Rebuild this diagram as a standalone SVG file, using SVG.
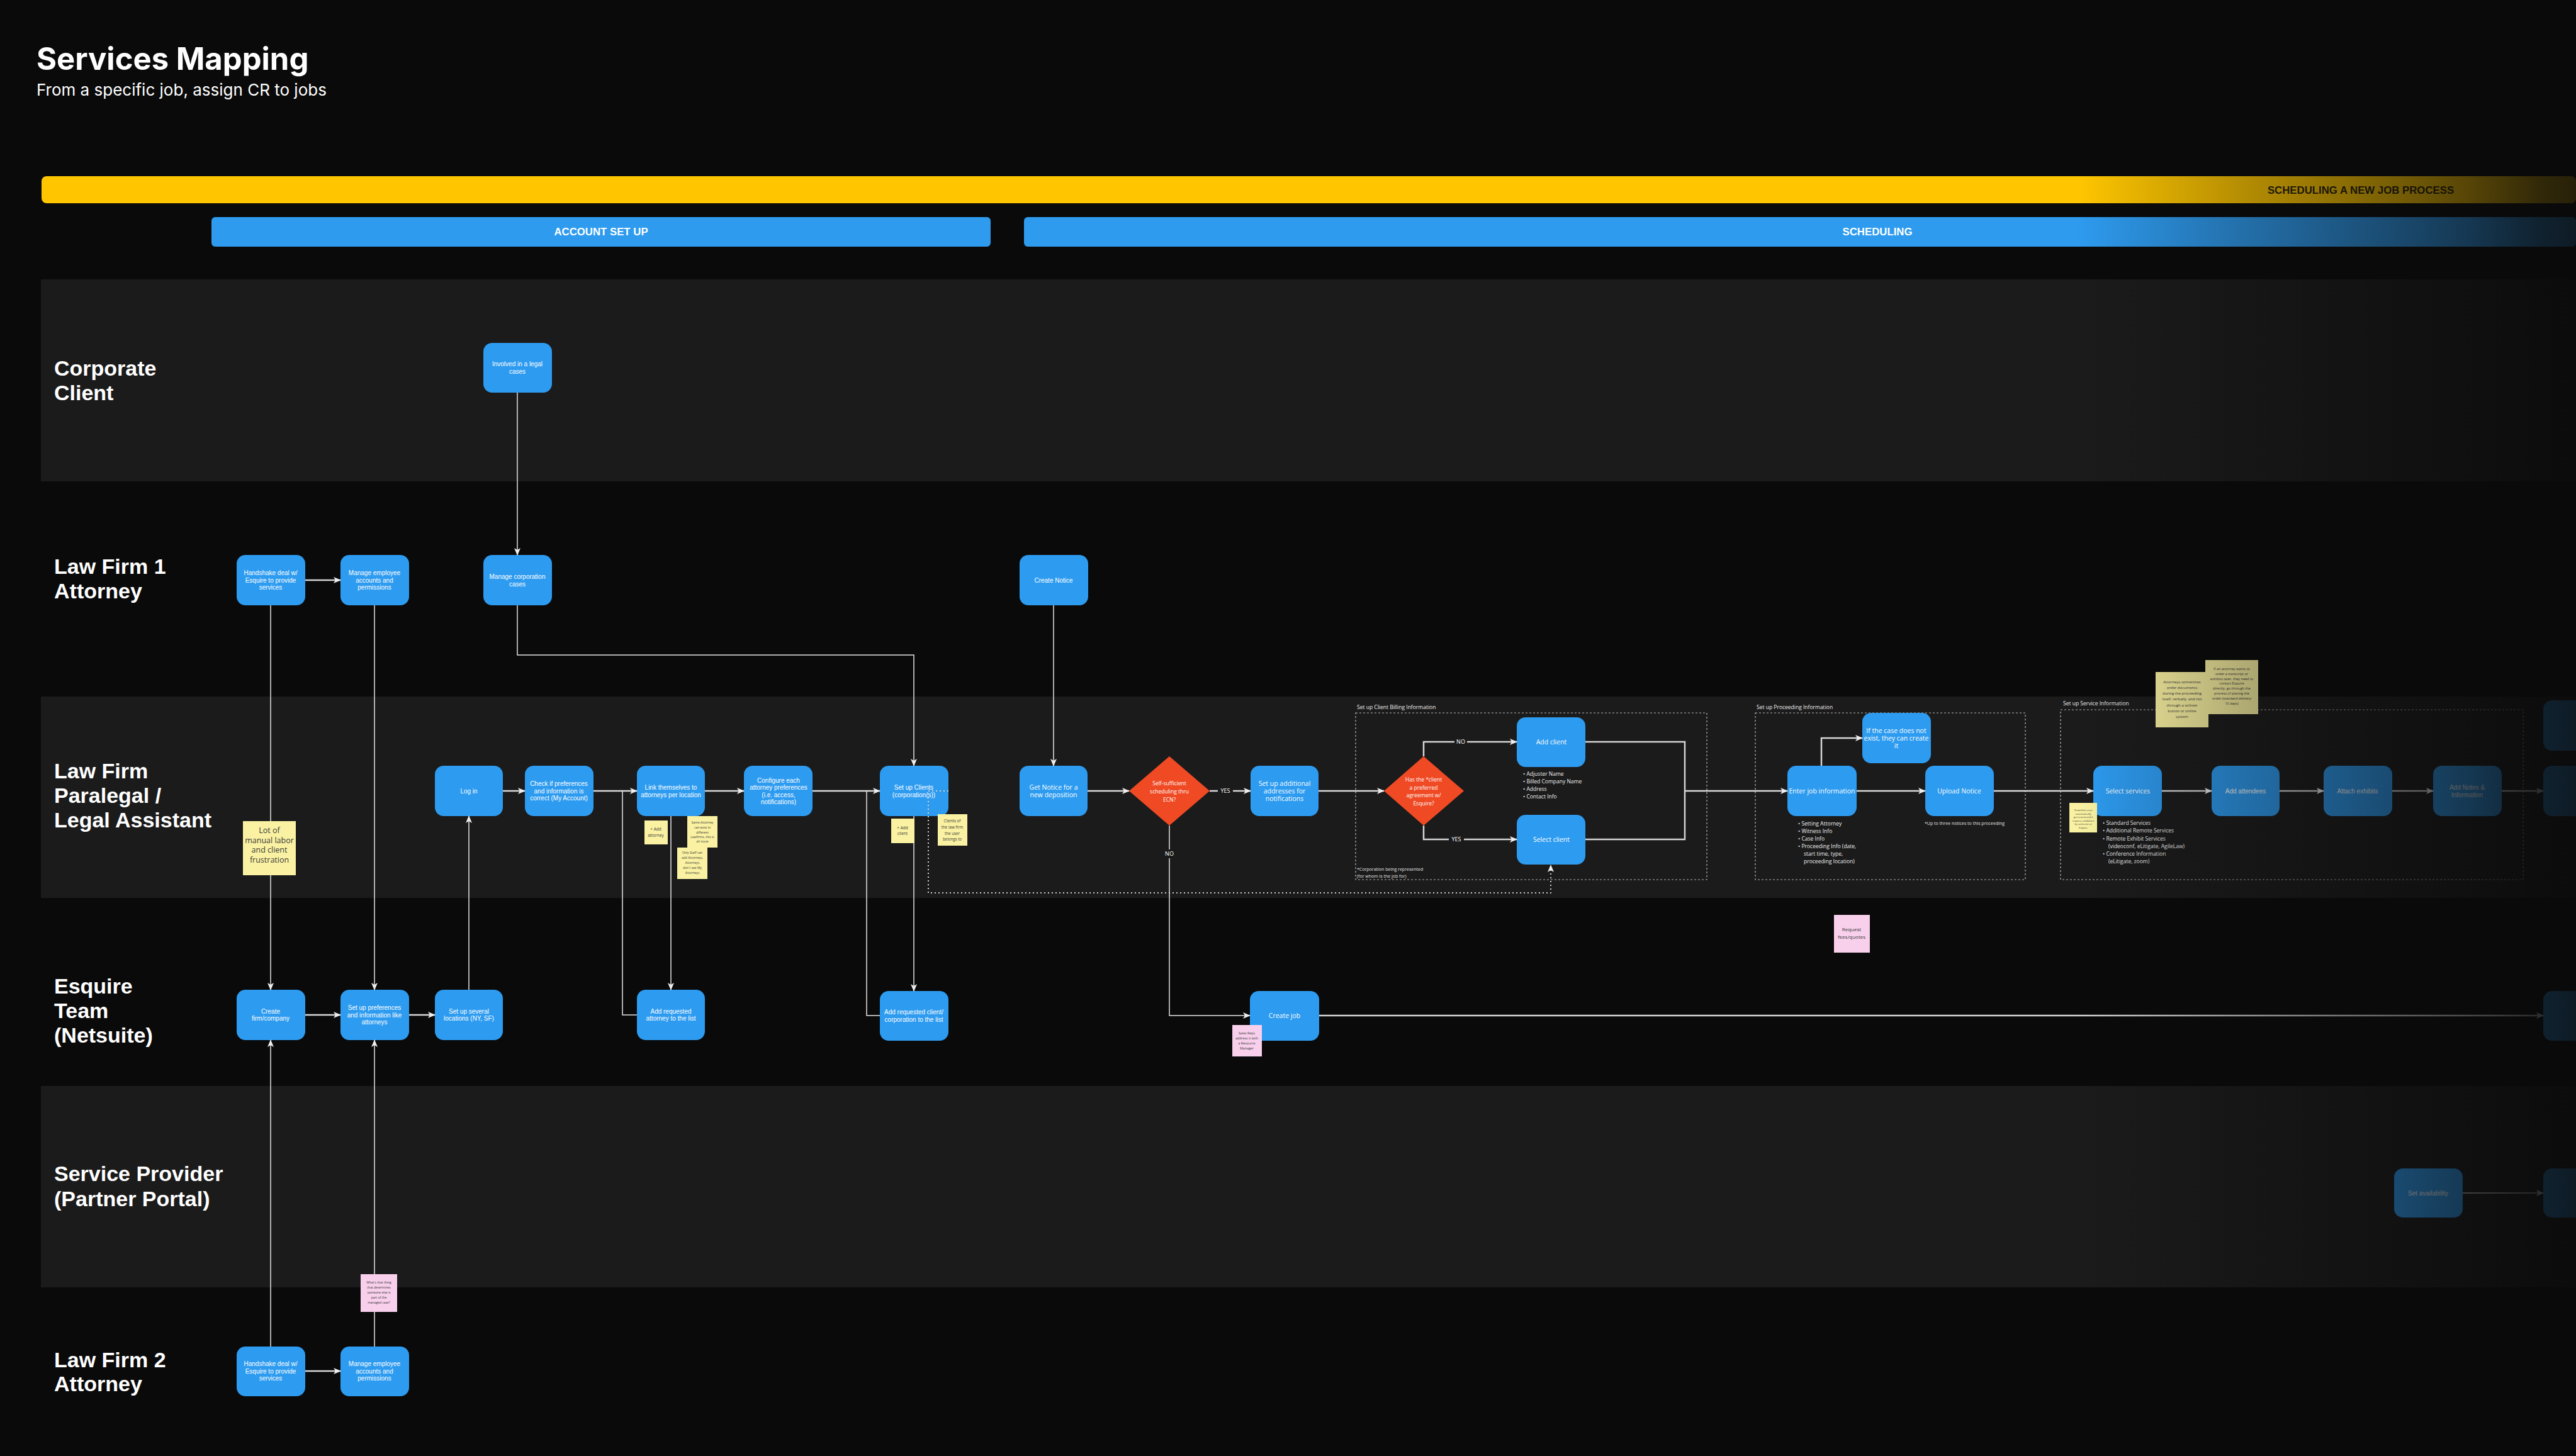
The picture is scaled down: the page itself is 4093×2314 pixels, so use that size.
<svg xmlns="http://www.w3.org/2000/svg" width="4093" height="2314" viewBox="0 0 4093 2314">
<defs>
<style>
.lane{fill:#1b1b1b}
.lbl{font-family:"Liberation Sans",Arial,sans-serif;font-weight:bold;font-size:34px;fill:#ffffff}
.node rect{fill:#2d9bf0}
.node polygon{fill:#ef4a24}
.nt{font-family:"Liberation Sans",Arial,sans-serif;font-size:10px;fill:#ffffff;text-anchor:middle}
.no{font-family:"Open Sans",sans-serif;font-size:10.5px;fill:#ffffff;text-anchor:middle}
.dt{font-family:"Open Sans",sans-serif;font-size:8.5px;fill:#ffffff;text-anchor:middle}
.c{fill:none;stroke:#d6d6d6;stroke-width:2.5}
.v{fill:none;stroke:#e4e4e4;stroke-width:1.5}
.dot{fill:none;stroke:#cfcfcf;stroke-width:2;stroke-dasharray:2 4}
.box{fill:none;stroke:#b5b5b5;stroke-width:1.2;stroke-dasharray:3 3}
.note{font-family:"Open Sans",sans-serif;font-size:8.5px;fill:#f0f0f0}
.small{font-family:"Open Sans",sans-serif;font-size:7px;fill:#e0e0e0}
.cl{font-family:"Open Sans",sans-serif;font-size:9px;fill:#ffffff;text-anchor:middle}
.st rect.y{fill:#faf2a2}
.st rect.p{fill:#f9d0ec}
.st text{font-family:"Open Sans",sans-serif;fill:#3a3a3a;text-anchor:middle}
.hb{font-family:"Liberation Sans",Arial,sans-serif;font-weight:bold;font-size:16.8px;text-anchor:middle}
</style>
<marker id="ar" markerUnits="userSpaceOnUse" markerWidth="12" markerHeight="10" refX="11" refY="5" orient="auto">
<path d="M0,0 L12,5 L0,10 L3,5 Z" fill="#eeeeee"/>
</marker>
<linearGradient id="fade" gradientUnits="userSpaceOnUse" x1="3300" y1="0" x2="4093" y2="0">
<stop offset="0" stop-color="#0a0a0a" stop-opacity="0"/>
<stop offset="0.33" stop-color="#0a0a0a" stop-opacity="0.3"/>
<stop offset="0.57" stop-color="#0a0a0a" stop-opacity="0.5"/>
<stop offset="0.78" stop-color="#0a0a0a" stop-opacity="0.68"/>
<stop offset="0.93" stop-color="#0a0a0a" stop-opacity="0.84"/>
<stop offset="1" stop-color="#0a0a0a" stop-opacity="0.88"/>
</linearGradient>
</defs>

<rect x="0" y="0" width="4093" height="2314" fill="#0a0a0a"/>

<g id="lanes">
<rect class="lane" x="65" y="444" width="4028" height="321"/>
<rect class="lane" x="65" y="1107" width="4028" height="320"/>
<rect class="lane" x="65" y="1726" width="4028" height="320"/>
<text class="lbl" x="86" y="597">Corporate</text>
<text class="lbl" x="86" y="636">Client</text>
<text class="lbl" x="86" y="912">Law Firm 1</text>
<text class="lbl" x="86" y="951">Attorney</text>
<text class="lbl" x="86" y="1237">Law Firm</text>
<text class="lbl" x="86" y="1276">Paralegal /</text>
<text class="lbl" x="86" y="1315">Legal Assistant</text>
<text class="lbl" x="86" y="1579">Esquire</text>
<text class="lbl" x="86" y="1618">Team</text>
<text class="lbl" x="86" y="1657">(Netsuite)</text>
<text class="lbl" x="86" y="1877">Service Provider</text>
<text class="lbl" x="86" y="1917">(Partner Portal)</text>
<text class="lbl" x="86" y="2173">Law Firm 2</text>
<text class="lbl" x="86" y="2211">Attorney</text>
</g>

<g id="header">
<text x="58" y="111" font-family="Inter, 'Liberation Sans', sans-serif" font-weight="700" font-size="49" fill="#ffffff">Services Mapping</text>
<text x="58" y="152" font-family="Inter, 'Liberation Sans', sans-serif" font-size="26" fill="#ffffff">From a specific job, assign CR to jobs</text>
<rect x="66" y="280" width="4027" height="43" rx="8" fill="#ffc600"/>
<text class="hb" x="3751" y="308" font-size="18.8" fill="#2a2200">SCHEDULING A NEW JOB PROCESS</text>
<rect x="336" y="345" width="1238" height="47" rx="6" fill="#2e9bef"/>
<text class="hb" x="955" y="374" fill="#ffffff">ACCOUNT SET UP</text>
<rect x="1627" y="345" width="2466" height="47" rx="6" fill="#2e9bef"/>
<text class="hb" x="2983" y="374" fill="#ffffff">SCHEDULING</text>
</g>

<g id="groups">
<rect class="box" x="2154" y="1133" width="558" height="265"/>
<text class="note" x="2156" y="1127">Set up Client Billing Information</text>
<rect class="box" x="2789" y="1133" width="429" height="265"/>
<text class="note" x="2791" y="1127">Set up Proceeding Information</text>
<rect class="box" x="3274" y="1128" width="735" height="270"/>
<text class="note" x="3278" y="1121">Set up Service Information</text>
<text class="note" x="2420" y="1233">• Adjuster Name</text>
<text class="note" x="2420" y="1245">• Billed Company Name</text>
<text class="note" x="2420" y="1257">• Address</text>
<text class="note" x="2420" y="1269">• Contact Info</text>
<text class="small" x="2156" y="1384">*Corporation being represented</text>
<text class="small" x="2156" y="1395">(for whom is the job for)</text>
<text class="note" x="2857" y="1312">• Setting Attorney</text>
<text class="note" x="2857" y="1324">• Witness Info</text>
<text class="note" x="2857" y="1336">• Case Info</text>
<text class="note" x="2857" y="1348">• Proceeding Info (date,</text>
<text class="note" x="2866" y="1360">start time, type,</text>
<text class="note" x="2866" y="1372">proceeding location)</text>
<text class="small" x="3058" y="1311">*Up to three notices to this proceeding</text>
<text class="note" x="3341" y="1311">• Standard Services</text>
<text class="note" x="3341" y="1323">• Additional Remote Services</text>
<text class="note" x="3341" y="1336">• Remote Exhibit Services</text>
<text class="note" x="3350" y="1348">(videoconf, eLitigate, AgileLaw)</text>
<text class="note" x="3341" y="1360">• Conference Information</text>
<text class="note" x="3350" y="1372">(eLitigate, zoom)</text>
</g>

<g id="nodes">
<g id="n-involved" class="node"><rect x="768" y="545" width="109" height="79" rx="14"/><text class="nt" x="822" y="582">Involved in a legal</text><text class="nt" x="822" y="594">cases</text></g>
<g id="n-lf1-handshake" class="node"><rect x="376" y="882" width="109" height="80" rx="14"/><text class="nt" x="430" y="914">Handshake deal w/</text><text class="nt" x="430" y="925.5">Esquire to provide</text><text class="nt" x="430" y="937">services</text></g>
<g id="n-lf1-manage" class="node"><rect x="541" y="882" width="109" height="80" rx="14"/><text class="nt" x="595" y="914">Manage employee</text><text class="nt" x="595" y="925.5">accounts and</text><text class="nt" x="595" y="937">permissions</text></g>
<g id="n-manage-corp" class="node"><rect x="768" y="882" width="109" height="80" rx="14"/><text class="nt" x="822" y="920">Manage corporation</text><text class="nt" x="822" y="931.5">cases</text></g>
<g id="n-create-notice" class="node"><rect x="1620" y="882" width="109" height="80" rx="14"/><text class="nt" x="1674" y="925.5">Create Notice</text></g>

<g id="n-login" class="node"><rect x="691" y="1217" width="108" height="80" rx="14"/><text class="nt" x="745" y="1260.5">Log in</text></g>
<g id="n-check" class="node"><rect x="834" y="1217" width="109" height="80" rx="14"/><text class="nt" x="888" y="1249">Check if preferences</text><text class="nt" x="888" y="1260.5">and information is</text><text class="nt" x="888" y="1272">correct (My Account)</text></g>
<g id="n-link" class="node"><rect x="1012" y="1217" width="108" height="80" rx="14"/><text class="nt" x="1066" y="1255">Link themselves to</text><text class="nt" x="1066" y="1266.5">attorneys per location</text></g>
<g id="n-configure" class="node"><rect x="1182" y="1217" width="109" height="80" rx="14"/><text class="nt" x="1237" y="1243.5">Configure each</text><text class="nt" x="1237" y="1255">attorney preferences</text><text class="nt" x="1237" y="1266.5">(i.e. access,</text><text class="nt" x="1237" y="1278">notifications)</text></g>
<g id="n-setup-clients" class="node"><rect x="1398" y="1217" width="109" height="80" rx="14"/><text class="nt" x="1452" y="1255">Set up Clients</text><text class="nt" x="1452" y="1266.5">(corporation(s))</text></g>
<g id="n-get-notice" class="node"><rect x="1620" y="1217" width="108" height="80" rx="14"/><text class="no" x="1674" y="1255">Get Notice for a</text><text class="no" x="1674" y="1267">new deposition</text></g>
<g id="n-decision-ecn" class="node"><polygon points="1794,1257 1858,1202 1922,1257 1858,1312"/><text class="dt" x="1858" y="1248">Self-sufficient</text><text class="dt" x="1858" y="1261">scheduling thru</text><text class="dt" x="1858" y="1274">ECN?</text></g>
<g id="n-setup-addresses" class="node"><rect x="1987" y="1217" width="108" height="80" rx="14"/><text class="no" x="2041" y="1249">Set up additional</text><text class="no" x="2041" y="1261">addresses for</text><text class="no" x="2041" y="1273">notifications</text></g>
<g id="n-decision-agreement" class="node"><polygon points="2199,1257 2262,1202 2326,1257 2262,1312"/><text class="dt" x="2262" y="1242">Has the *client</text><text class="dt" x="2262" y="1254.5">a preferred</text><text class="dt" x="2262" y="1267">agreement w/</text><text class="dt" x="2262" y="1279.5">Esquire?</text></g>
<g id="n-add-client" class="node"><rect x="2410" y="1140" width="109" height="79" rx="14"/><text class="no" x="2465" y="1183">Add client</text></g>
<g id="n-select-client" class="node"><rect x="2410" y="1295" width="109" height="79" rx="14"/><text class="no" x="2465" y="1338">Select client</text></g>
<g id="n-enter-job" class="node"><rect x="2840" y="1217" width="110" height="80" rx="14"/><text class="no" x="2895" y="1261">Enter job information</text></g>
<g id="n-case-create" class="node"><rect x="2959" y="1133" width="109" height="80" rx="14"/><text class="no" x="3013" y="1165">If the case does not</text><text class="no" x="3013" y="1177">exist, they can create</text><text class="no" x="3013" y="1189">it</text></g>
<g id="n-upload-notice" class="node"><rect x="3059" y="1217" width="109" height="80" rx="14"/><text class="no" x="3113" y="1261">Upload Notice</text></g>
<g id="n-select-services" class="node"><rect x="3326" y="1217" width="109" height="80" rx="14"/><text class="no" x="3381" y="1261">Select services</text></g>
<g id="n-add-attendees" class="node"><rect x="3514" y="1217" width="108" height="80" rx="14"/><text class="nt" x="3568" y="1260.5">Add attendees</text></g>
<g id="n-attach-exhibits" class="node"><rect x="3692" y="1217" width="109" height="80" rx="14"/><text class="nt" x="3746" y="1260.5">Attach exhibits</text></g>
<g id="n-add-notes" class="node"><rect x="3866" y="1217" width="109" height="80" rx="14"/><text class="nt" x="3920" y="1255">Add Notes &amp;</text><text class="nt" x="3920" y="1266.5">Information</text></g>
<g id="n-next-top" class="node"><rect x="4041" y="1113" width="109" height="80" rx="14"/></g>
<g id="n-next-row" class="node"><rect x="4041" y="1217" width="109" height="80" rx="14"/></g>

<g id="n-create-firm" class="node"><rect x="376" y="1573" width="109" height="80" rx="14"/><text class="nt" x="430" y="1610.5">Create</text><text class="nt" x="430" y="1622">firm/company</text></g>
<g id="n-setup-prefs" class="node"><rect x="541" y="1573" width="109" height="80" rx="14"/><text class="nt" x="595" y="1605">Set up preferences</text><text class="nt" x="595" y="1616.5">and information like</text><text class="nt" x="595" y="1628">attorneys</text></g>
<g id="n-setup-locations" class="node"><rect x="691" y="1573" width="108" height="80" rx="14"/><text class="nt" x="745" y="1610.5">Set up several</text><text class="nt" x="745" y="1622">locations (NY, SF)</text></g>
<g id="n-add-req-attorney" class="node"><rect x="1012" y="1573" width="108" height="80" rx="14"/><text class="nt" x="1066" y="1610.5">Add requested</text><text class="nt" x="1066" y="1622">attorney to the list</text></g>
<g id="n-add-req-client" class="node"><rect x="1398" y="1575" width="109" height="79" rx="14"/><text class="nt" x="1452" y="1612">Add requested client/</text><text class="nt" x="1452" y="1623.5">corporation to the list</text></g>
<g id="n-create-job" class="node"><rect x="1986" y="1575" width="110" height="79" rx="14"/><text class="no" x="2041" y="1618">Create job</text></g>
<g id="n-next-esq" class="node"><rect x="4041" y="1575" width="109" height="79" rx="14"/></g>

<g id="n-set-availability" class="node"><rect x="3804" y="1857" width="109" height="78" rx="14"/><text class="nt" x="3858" y="1899.5">Set availability</text></g>
<g id="n-next-sp" class="node"><rect x="4041" y="1857" width="109" height="78" rx="14"/></g>

<g id="n-lf2-handshake" class="node"><rect x="376" y="2140" width="109" height="79" rx="14"/><text class="nt" x="430" y="2171">Handshake deal w/</text><text class="nt" x="430" y="2182.5">Esquire to provide</text><text class="nt" x="430" y="2194">services</text></g>
<g id="n-lf2-manage" class="node"><rect x="541" y="2140" width="109" height="79" rx="14"/><text class="nt" x="595" y="2171">Manage employee</text><text class="nt" x="595" y="2182.5">accounts and</text><text class="nt" x="595" y="2194">permissions</text></g>
</g>

<g id="connectors">
<path class="v" d="M822,624 V882" marker-end="url(#ar)"/>
<path class="c" d="M485,922 H541" marker-end="url(#ar)"/>
<path class="v" d="M430,962 V1573" marker-end="url(#ar)"/>
<path class="v" d="M595,962 V1573" marker-end="url(#ar)"/>
<path class="v" d="M822,962 V1041 H1452 V1217" marker-end="url(#ar)"/>
<path class="v" d="M1674,962 V1217" marker-end="url(#ar)"/>
<path class="c" d="M799,1257 H834" marker-end="url(#ar)"/>
<path class="c" d="M943,1257 H1012" marker-end="url(#ar)"/>
<path class="c" d="M1120,1257 H1182" marker-end="url(#ar)"/>
<path class="c" d="M1291,1257 H1398" marker-end="url(#ar)"/>
<path class="v" d="M745,1573 V1297" marker-end="url(#ar)"/>
<path class="c" d="M485,1613 H541" marker-end="url(#ar)"/>
<path class="c" d="M650,1613 H691" marker-end="url(#ar)"/>
<path class="v" d="M1066,1297 V1573" marker-end="url(#ar)"/>
<path class="v" d="M1012,1613 H989 V1257"/>
<path class="v" d="M1452,1297 V1575" marker-end="url(#ar)"/>
<path class="v" d="M1398,1614 H1377 V1257"/>
<path class="dot" d="M1507,1257 H1475 V1419 H2464 V1375" marker-end="url(#ar)"/>
<path class="c" d="M1728,1257 H1794" marker-end="url(#ar)"/>
<path class="c" d="M1922,1257 H1987" marker-end="url(#ar)"/>
<path class="c" d="M2095,1257 H2199" marker-end="url(#ar)"/>
<path class="c" d="M2262,1202 V1179 H2410" marker-end="url(#ar)"/>
<path class="c" d="M2262,1312 V1334 H2410" marker-end="url(#ar)"/>
<path class="c" d="M2519,1179 H2677 V1334 H2519"/>
<path class="c" d="M2677,1257 H2840" marker-end="url(#ar)"/>
<path class="c" d="M2950,1257 H3059" marker-end="url(#ar)"/>
<path class="c" d="M2894,1217 V1173 H2959" marker-end="url(#ar)"/>
<path class="c" d="M3168,1257 H3326" marker-end="url(#ar)"/>
<path class="c" d="M3435,1257 H3514" marker-end="url(#ar)"/>
<path class="c" d="M3622,1257 H3692" marker-end="url(#ar)"/>
<path class="c" d="M3801,1257 H3866" marker-end="url(#ar)"/>
<path class="c" d="M3975,1257 H4041" marker-end="url(#ar)"/>
<path class="v" d="M1858,1312 V1614 H1986" marker-end="url(#ar)"/>
<path class="c" d="M2096,1614 H4041" marker-end="url(#ar)"/>
<path class="v" d="M3913,1896 H4041" marker-end="url(#ar)"/>
<path class="v" d="M430,2140 V1653" marker-end="url(#ar)"/>
<path class="v" d="M595,2140 V1653" marker-end="url(#ar)"/>
<path class="c" d="M485,2179 H541" marker-end="url(#ar)"/>
<rect x="1935" y="1250" width="24" height="14" fill="#1b1b1b"/>
<text class="cl" x="1947" y="1260">YES</text>
<rect x="2311" y="1172" width="20" height="14" fill="#1b1b1b"/>
<text class="cl" x="2321" y="1182">NO</text>
<rect x="2302" y="1327" width="24" height="14" fill="#1b1b1b"/>
<text class="cl" x="2314" y="1337">YES</text>
<rect x="1848" y="1350" width="20" height="14" fill="#1b1b1b"/>
<text class="cl" x="1858" y="1360">NO</text>
</g>

<g id="stickies">
<g class="st"><rect class="y" x="386" y="1305" width="84" height="86"/><text x="428" y="1324" font-size="12.5">Lot of</text><text x="428" y="1340" font-size="12.5">manual labor</text><text x="428" y="1355" font-size="12.5">and client</text><text x="428" y="1371" font-size="12.5">frustration</text></g>
<g class="st"><rect class="y" x="1024" y="1304" width="37" height="38"/><text x="1042" y="1320" font-size="6.5">+ Add</text><text x="1042" y="1330" font-size="6.5">attorney</text></g>
<g class="st"><rect class="y" x="1092" y="1297" width="48" height="50"/><text x="1116" y="1309" font-size="5">Same Attorney</text><text x="1116" y="1317" font-size="5">can exist in</text><text x="1116" y="1325" font-size="5">different</text><text x="1116" y="1332" font-size="5">Lawfirms, this is</text><text x="1116" y="1339" font-size="5">an issue</text></g>
<g class="st"><rect class="y" x="1076" y="1347" width="48" height="50"/><text x="1100" y="1357" font-size="5">Only Staff can</text><text x="1100" y="1365" font-size="5">add Attorneys,</text><text x="1100" y="1373" font-size="5">Attorneys</text><text x="1100" y="1381" font-size="5">don´t see My</text><text x="1100" y="1389" font-size="5">Attorneys</text></g>
<g class="st"><rect class="y" x="1416" y="1301" width="37" height="39"/><text x="1434" y="1318" font-size="6.5">+ Add</text><text x="1434" y="1327" font-size="6.5">client</text></g>
<g class="st"><rect class="y" x="1490" y="1294" width="47" height="50"/><text x="1513" y="1307" font-size="6.2">Clients of</text><text x="1513" y="1317" font-size="6.2">the law firm</text><text x="1513" y="1327" font-size="6.2">the user</text><text x="1513" y="1336" font-size="6.2">belongs to</text></g>
<g class="st"><rect class="p" x="1958" y="1629" width="47" height="50"/><text x="1981" y="1644" font-size="5.3">Sales Reps</text><text x="1981" y="1652" font-size="5.3">address it with</text><text x="1981" y="1660" font-size="5.3">a Resource</text><text x="1981" y="1668" font-size="5.3">Manager</text></g>
<g class="st"><rect class="p" x="2914" y="1454" width="57" height="60"/><text x="2942" y="1480" font-size="8">Request</text><text x="2942" y="1492" font-size="8">fees/quotes</text></g>
<g class="st"><rect class="p" x="573" y="2025" width="58" height="60"/><text x="602" y="2040" font-size="5">What's that thing</text><text x="602" y="2048" font-size="5">that determines</text><text x="602" y="2056" font-size="5">someone else is</text><text x="602" y="2064" font-size="5">part of the</text><text x="602" y="2072" font-size="5">managed case?</text></g>
<g class="st"><rect class="y" x="3288" y="1276" width="44" height="47"/><text x="3310" y="1289" font-size="4">Downlink is not</text><text x="3310" y="1294.5" font-size="4">automatically</text><text x="3310" y="1300" font-size="4">generated and it</text><text x="3310" y="1305.5" font-size="4">requires validation</text><text x="3310" y="1311" font-size="4">by someone at</text><text x="3310" y="1316.5" font-size="4">Esquire</text></g>
<g class="st"><rect class="y" x="3504" y="1049" width="84" height="86"/><text x="3546" y="1065" font-size="5.5">If an attorney wants to</text><text x="3546" y="1073" font-size="5.5">order a transcript or</text><text x="3546" y="1081" font-size="5.5">exhibits later, they need to</text><text x="3546" y="1088" font-size="5.5">contact Esquire</text><text x="3546" y="1096" font-size="5.5">directly, go through the</text><text x="3546" y="1104" font-size="5.5">process of placing the</text><text x="3546" y="1112" font-size="5.5">order (standard delivery</text><text x="3546" y="1120" font-size="5.5">10 days)</text></g>
<g class="st"><rect class="y" x="3425" y="1068" width="84" height="88"/><text x="3467" y="1086" font-size="6">Attorneys sometimes</text><text x="3467" y="1095" font-size="6">order documents</text><text x="3467" y="1104" font-size="6">during the proceeding</text><text x="3467" y="1113" font-size="6">itself, verbally, and not</text><text x="3467" y="1123" font-size="6">through a written</text><text x="3467" y="1132" font-size="6">button or online</text><text x="3467" y="1141" font-size="6">system</text></g>
</g>

<rect x="3300" y="270" width="793" height="2044" fill="url(#fade)"/>
</svg>
